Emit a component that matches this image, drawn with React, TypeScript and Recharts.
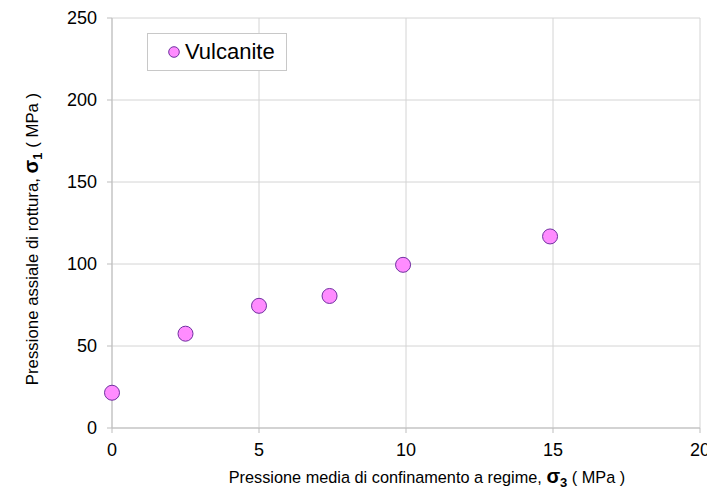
import React from "react";
import { ScatterChart, Scatter, XAxis, YAxis, CartesianGrid, Legend } from "recharts";

const seriesName = "Vulcanite";
const sigma3 = [0, 2.5, 5, 7.4, 9.9, 14.9];
const sigma1 = [21.5, 57.5, 74.5, 80.5, 99.5, 116.8];
const xTicks = [0, 5, 10, 15, 20];
const yTicks = [0, 50, 100, 150, 200, 250];

const data = sigma3.map((x, i) => ({ x, y: sigma1[i] }));

const FONT = "'Liberation Sans', Arial, sans-serif";
const FILL = "#ff8cff";
const STROKE = "#7030a0";
const GRID = "#d4d4d4";
const AXIS = "#bdbdbd";

const Dot = (props: any) => (
  <circle cx={props.cx} cy={props.cy} r={7.5} fill={FILL} stroke={STROKE} strokeWidth={1} />
);

const XLabel = () => (
  <text x={427} y={483} textAnchor="middle" fontFamily={FONT} fontSize={16.3} fill="#000">
    <tspan>Pressione media di confinamento a regime, </tspan>
    <tspan fontWeight="bold" fontSize={20}>σ</tspan>
    <tspan fontWeight="bold" fontSize={13} dy={4}>3</tspan>
    <tspan dy={-4}> ( MPa )</tspan>
  </text>
);

const YLabel = () => (
  <text
    x={38}
    y={239}
    textAnchor="middle"
    transform="rotate(-90, 38, 239)"
    fontFamily={FONT}
    fontSize={16.8}
    fill="#000"
  >
    <tspan>Pressione assiale di rottura, </tspan>
    <tspan fontWeight="bold" fontSize={20}>σ</tspan>
    <tspan fontWeight="bold" fontSize={13} dy={4}>1</tspan>
    <tspan dy={-4}> ( MPa )</tspan>
  </text>
);

const LegendBox = () => (
  <div
    style={{
      width: 140,
      height: 38,
      boxSizing: "border-box",
      border: "1px solid #c8c8c8",
      background: "#fff",
      display: "flex",
      alignItems: "center",
      paddingLeft: 20,
      fontFamily: FONT,
      fontSize: 22,
      color: "#000",
    }}
  >
    <svg width={12} height={12} style={{ marginRight: 5 }}>
      <circle cx={6} cy={6} r={5.3} fill={FILL} stroke={STROKE} strokeWidth={1} />
    </svg>
    <span>{seriesName}</span>
  </div>
);

export default function App() {
  return (
    <div style={{ position: "absolute", left: 0, top: 0, width: 707, height: 492, background: "#fff" }}>
      <ScatterChart width={707} height={492} margin={{ top: 18, right: 7, left: 0, bottom: 0 }}>
        <CartesianGrid stroke={GRID} strokeWidth={1} />
        <XAxis
          type="number"
          dataKey="x"
          domain={[0, 20]}
          ticks={xTicks}
          interval={0}
          height={26}
          tickSize={5}
          tickMargin={10}
          stroke={AXIS}
          tick={{ fill: "#000", fontSize: 18, fontFamily: FONT }}
          label={<XLabel />}
        />
        <YAxis
          type="number"
          dataKey="y"
          domain={[0, 250]}
          ticks={yTicks}
          interval={0}
          width={112}
          tickSize={5}
          tickMargin={10}
          stroke={AXIS}
          tick={{ fill: "#000", fontSize: 18, fontFamily: FONT }}
          label={<YLabel />}
        />
        <Legend
          content={<LegendBox />}
          wrapperStyle={{ position: "absolute", left: 147, top: 33, width: 140, height: 38 }}
        />
        <Scatter name={seriesName} data={data} shape={<Dot />} isAnimationActive={false} />
      </ScatterChart>
    </div>
  );
}
